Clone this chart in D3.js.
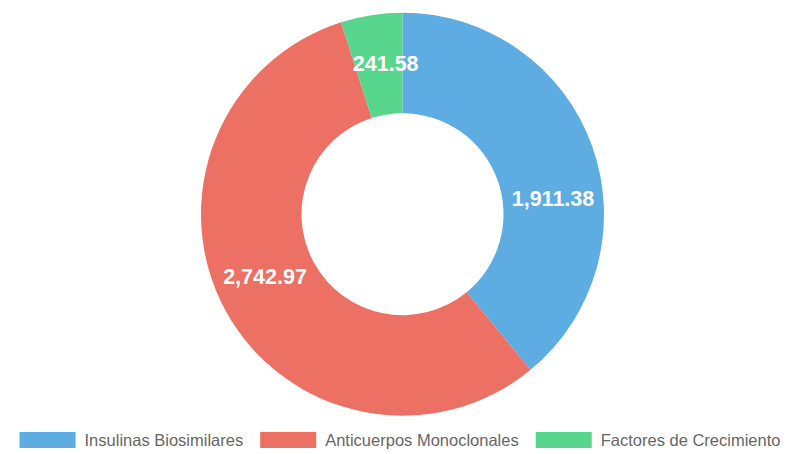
<!DOCTYPE html>
<html>
<head>
<meta charset="utf-8">
<script src="https://cdn.jsdelivr.net/npm/d3@7"></script>
<style>
  html, body { margin: 0; padding: 0; background: #fff; }
  svg { display: block; }
</style>
</head>
<body>
<svg id="chart" width="800" height="454"></svg>
<script>
const categories = ["Insulinas Biosimilares", "Anticuerpos Monoclonales", "Factores de Crecimiento"];
const values = [1911.38, 2742.97, 241.58];
const colors = ["#5DADE2", "#EC7063", "#58D68D"];

const W = 800, H = 454;
const cx = 402.5, cy = 214.2;
const outerR = 201.5, innerR = 101;
// small angular nudges (degrees) so labels sit where the original placed them
const labelAngleShift = [13.9, 4, 2.5];

const svg = d3.select("#chart");
const data = categories.map((c, i) => ({ name: c, value: values[i], color: colors[i] }));

const pie = d3.pie().value(d => d.value).sort(null);
const arc = d3.arc().innerRadius(innerR).outerRadius(outerR);
const arcs = pie(data);

const g = svg.append("g").attr("transform", `translate(${cx},${cy})`);
g.selectAll("path.slice")
  .data(arcs)
  .join("path")
  .attr("class", "slice")
  .attr("d", arc)
  .attr("fill", d => d.data.color);

const fmt = d3.format(",.2f");
g.selectAll("text.lbl")
  .data(arcs)
  .join("text")
  .attr("class", "lbl")
  .attr("transform", (d, i) => {
    const s = labelAngleShift[i] * Math.PI / 180;
    const c = arc.centroid({ startAngle: d.startAngle + s, endAngle: d.endAngle + s });
    return `translate(${c[0]},${c[1]})`;
  })
  .attr("text-anchor", "middle")
  .attr("dominant-baseline", "central")
  .attr("fill", "#fff")
  .style("font-family", "'Liberation Sans', Arial, Helvetica, sans-serif")
  .style("font-weight", "bold")
  .style("font-size", "21.5px")
  .text(d => fmt(d.data.value));

// Legend
const legendY = 440;
const boxW = 56, boxH = 16, boxGap = 9, itemGap = 17;
const legend = svg.append("g");
const items = legend.selectAll("g.item").data(data).join("g").attr("class", "item");
items.append("rect")
  .attr("width", boxW).attr("height", boxH)
  .attr("y", legendY - boxH / 2)
  .attr("fill", d => d.color);
items.append("text")
  .attr("x", boxW + boxGap)
  .attr("y", legendY)
  .attr("dominant-baseline", "central")
  .attr("fill", "#666")
  .style("font-family", "'Liberation Sans', Arial, Helvetica, sans-serif")
  .style("font-size", "16.5px")
  .text(d => d.name);

let widths = [];
items.each(function() {
  const t = d3.select(this).select("text").node().getComputedTextLength();
  widths.push(boxW + boxGap + t);
});
const total = d3.sum(widths) + itemGap * (widths.length - 1);
let x = (W - total) / 2;
items.attr("transform", (d, i) => {
  const tx = x;
  x += widths[i] + itemGap;
  return `translate(${tx},0)`;
});
</script>
</body>
</html>
